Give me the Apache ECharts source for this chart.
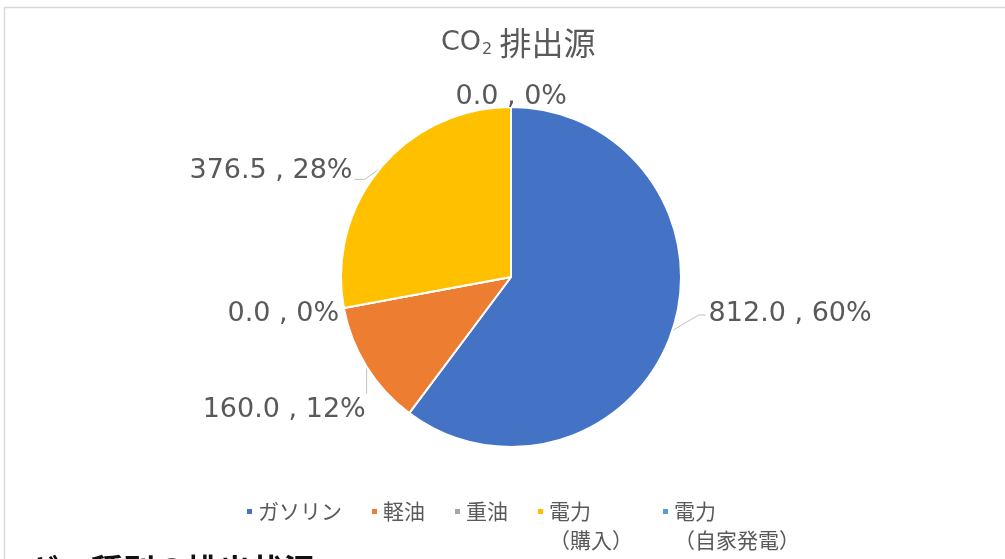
<!DOCTYPE html>
<html>
<head>
<meta charset="utf-8">
<script src="https://cdn.jsdelivr.net/npm/echarts@6/dist/echarts.min.js"></script>
<style>
  html, body { margin: 0; padding: 0; background: #ffffff; }
  #chart { width: 1005px; height: 559px; }
</style>
</head>
<body>
<div id="chart"></div>
<script>
// CO2 emission sources (t-CO2)
const categories = ['ガソリン', '軽油', '重油', '電力\n（購入）', '電力\n（自家発電）'];
const emissions = [812.0, 160.0, 0.0, 376.5, 0.0];
const sliceColors = ['#4472C4', '#ED7D31', '#A5A5A5', '#FFC000', '#5B9BD5'];

// fine placement of the outside labels, in pixels, per slice
const labelShift = [[9, -21], [25, 36], [23, 3], [-3, 12], [70, 4]];

const textGray = '#595959';
const jpFont = '"Noto Sans CJK JP", "Noto Sans", sans-serif';
const numFont = '"DejaVu Sans", "Noto Sans", sans-serif';

const chart = echarts.init(document.getElementById('chart'), null, { renderer: 'canvas' });

const pieData = categories.map((name, i) => ({
  name: name,
  value: emissions[i],
  itemStyle: { color: sliceColors[i] }
}));

// leader line for each label, starting where the library anchors it on the slice
function leaderLine(i, anchor, r) {
  const L = r.x, R = r.x + r.width, T = r.y, cy = r.y + r.height / 2;
  switch (i) {
    case 0: return [anchor, [L - 10, cy + 1], [L - 3, cy + 1]];
    case 1: return [anchor, [anchor[0], T - 3]];
    case 3: return [anchor, [R + 12, cy + 8], [R + 2, cy + 8]];
    default: return [anchor, anchor];
  }
}

chart.setOption({
  animation: false,
  backgroundColor: '#ffffff',
  color: sliceColors,
  title: {
    text: '{a|CO}{s|2}{b| 排出源}',
    left: 436,
    top: 22,
    textStyle: {
      fontWeight: 'normal',
      rich: {
        a: { fontFamily: numFont, fontSize: 27, fontWeight: 'normal', color: textGray },
        s: { fontFamily: numFont, fontSize: 16, fontWeight: 'normal', color: textGray, padding: [14, 0, 0, 1] },
        b: { fontFamily: jpFont, fontSize: 32, fontWeight: 'normal', color: textGray }
      }
    }
  },
  legend: {
    data: categories,
    left: 245,
    top: 468,
    padding: 0,
    orient: 'horizontal',
    icon: 'rect',
    itemWidth: 7,
    itemHeight: 7,
    itemGap: 28,
    // two-line entries get an empty leading line so the marker sits beside the first line
    formatter: name => (name.indexOf('\n') >= 0 ? '\n' + name : name),
    textStyle: {
      fontFamily: jpFont,
      fontSize: 21,
      color: textGray,
      lineHeight: 29
    }
  },
  graphic: [
    {
      type: 'rect',
      silent: true,
      shape: { x: 4.5, y: 7.5, width: 1200, height: 700 },
      style: { fill: 'none', stroke: '#d9d9d9', lineWidth: 1.5 }
    },
    {
      type: 'text',
      silent: true,
      left: 27,
      top: 554,
      style: {
        text: 'ギー種別の排出状況',
        fontFamily: jpFont,
        fontSize: 32,
        fontWeight: 'bold',
        fill: '#111111'
      }
    }
  ],
  series: [
    {
      type: 'pie',
      center: [511, 277],
      radius: 170,
      startAngle: 90,
      clockwise: true,
      avoidLabelOverlap: false,
      minShowLabelAngle: 0,
      data: pieData,
      itemStyle: { borderColor: '#ffffff', borderWidth: 2 },
      label: {
        show: true,
        position: 'outside',
        fontFamily: numFont,
        fontSize: 27,
        color: textGray,
        distanceToLabelLine: 4,
        formatter: p => p.value.toFixed(1) + ' , ' + Math.round(p.percent) + '%'
      },
      labelLine: {
        show: true,
        length: 14,
        length2: 10,
        lineStyle: { color: '#bfbfbf', width: 1 }
      },
      labelLayout: p => {
        const i = p.dataIndex;
        const dx = labelShift[i][0], dy = labelShift[i][1];
        const r = p.labelRect;
        const moved = { x: r.x + dx, y: r.y + dy, width: r.width, height: r.height };
        return {
          dx: dx,
          dy: dy,
          labelLinePoints: leaderLine(i, p.labelLinePoints[0], moved)
        };
      },
      emphasis: { disabled: true }
    }
  ]
});
</script>
</body>
</html>
